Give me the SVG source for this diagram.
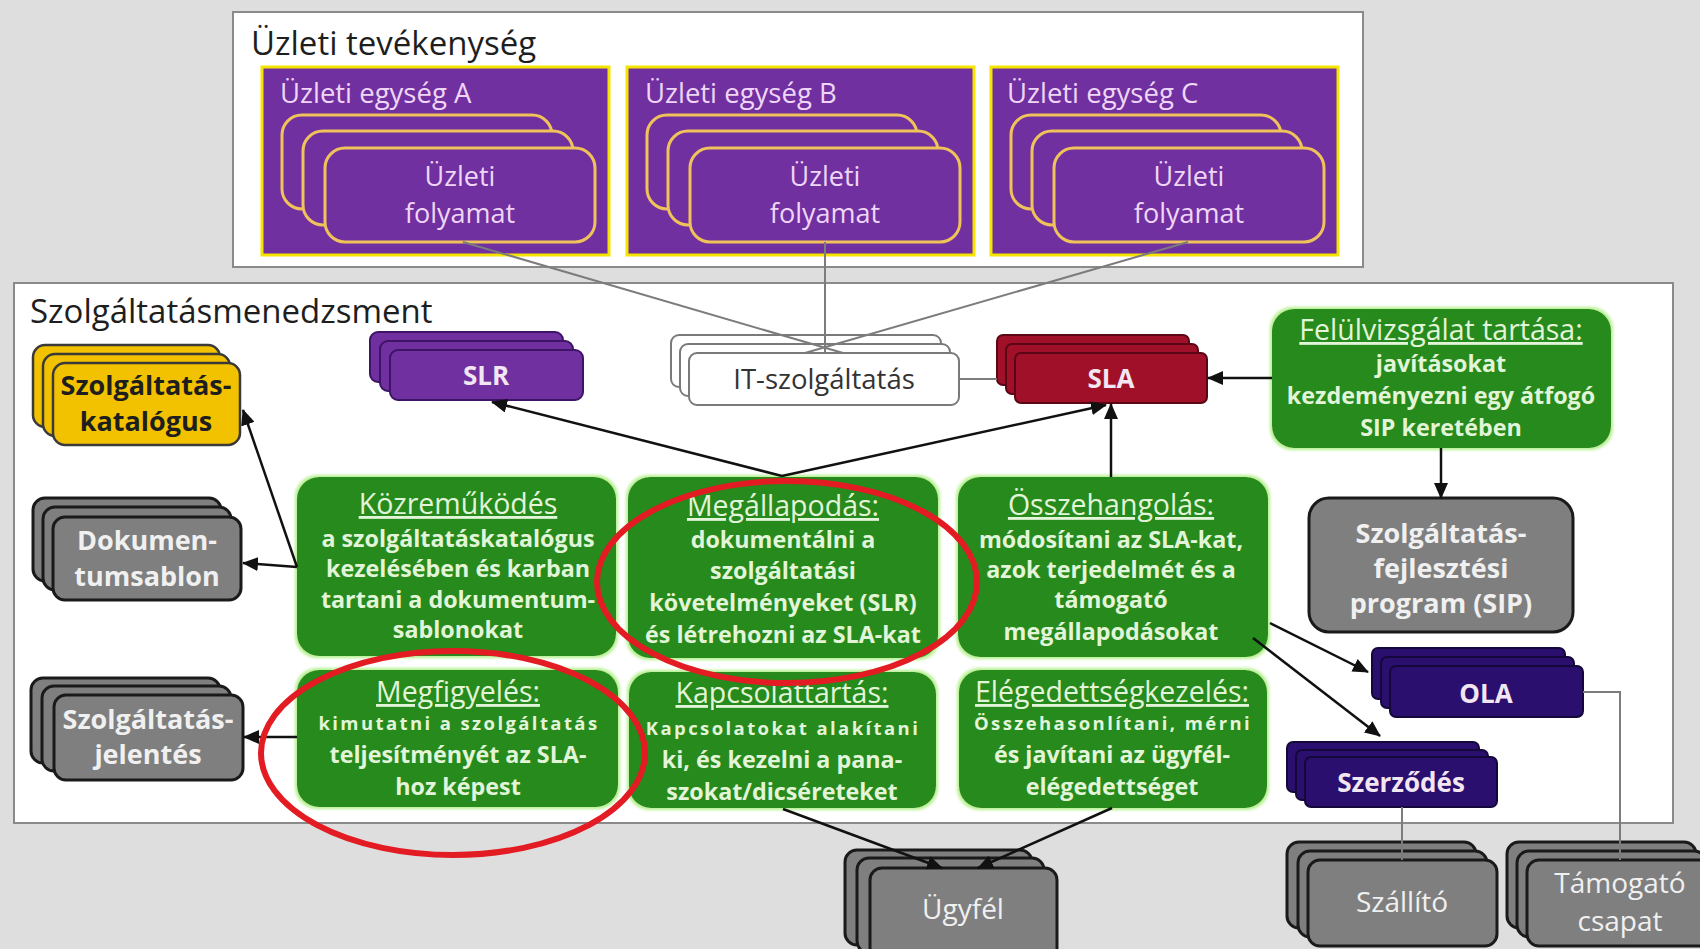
<svg xmlns="http://www.w3.org/2000/svg" width="1700" height="949" viewBox="0 0 1700 949">
  <defs>
    <style>
      text { font-family: "Open Sans", "Liberation Sans", sans-serif; }
      .frame { fill: #ffffff; stroke: #8a8a8a; stroke-width: 2; }
      .sec { font-size: 33px; fill: #1e1e1e; }
      .unit { fill: #7030a0; stroke: #f5e400; stroke-width: 3; }
      .proc { fill: #7030a0; stroke: #f0c35a; stroke-width: 3; }
      .lav { fill: #efd6f7; font-size: 27px; text-anchor: middle; }
      .lav-l { fill: #efd6f7; font-size: 27.5px; }
      .green { fill: #288a1a; filter: url(#glow); }
      .gt { fill: #e2f5d8; font-size: 28.5px; text-anchor: middle; text-decoration: underline; }
      .gb { fill: #e2f5d8; font-size: 23.3px; font-weight: bold; text-anchor: middle; }
      .gs { fill: #e2f5d8; font-size: 18.5px; font-weight: bold; text-anchor: middle; letter-spacing: 2.4px; }
      .gray { fill: #7f7f7f; stroke: #1a1a1a; stroke-width: 3; }
      .gray-t { fill: #f0f0f0; font-size: 28px; text-anchor: middle; }
      .gray-tb { fill: #f0f0f0; font-size: 27px; font-weight: bold; text-anchor: middle; }
      .gold { fill: #f2c200; stroke: #3a3a3a; stroke-width: 2.5; }
      .gold-t { fill: #1e1e1e; font-size: 27px; font-weight: bold; text-anchor: middle; }
      .slr { fill: #7030a0; stroke: #3d1466; stroke-width: 2; }
      .sla { fill: #a01028; stroke: #5a0614; stroke-width: 2; }
      .ola { fill: #2a0f6e; stroke: #14083a; stroke-width: 2; }
      .itsv { fill: #ffffff; stroke: #7a7a7a; stroke-width: 2; }
      .lbl-b { fill: #f3e6f3; font-size: 26px; font-weight: bold; text-anchor: middle; }
      .lbl-it { fill: #333333; font-size: 27.5px; text-anchor: middle; }
      .arrow { stroke: #111111; stroke-width: 2.5; fill: none; marker-end: url(#head); }
      .link { stroke: #7c7c7c; stroke-width: 2; fill: none; }
      .ring { fill: none; stroke: #e31b23; stroke-width: 6; }
    </style>
    <marker id="head" markerUnits="userSpaceOnUse" markerWidth="16" markerHeight="14" refX="15" refY="7" orient="auto">
      <path d="M0,0 L16,7 L0,14 Z" fill="#111111"/>
    </marker>
    <filter id="glow" x="-5%" y="-5%" width="110%" height="110%">
      <feMorphology in="SourceAlpha" operator="dilate" radius="2" result="d"/>
      <feGaussianBlur in="d" stdDeviation="1.5" result="b"/>
      <feFlood flood-color="#b5f08f"/>
      <feComposite in2="b" operator="in" result="g"/>
      <feMerge><feMergeNode in="g"/><feMergeNode in="SourceGraphic"/></feMerge>
    </filter>
  </defs>

  <!-- backdrop -->
  <rect x="0" y="0" width="1700" height="949" fill="#dedede"/>

  <!-- business layer -->
  <g id="uzleti-tevekenyseg">
    <rect class="frame" x="233" y="12" width="1130" height="255"/>
    <text class="sec" x="251" y="55">Üzleti tevékenység</text>
  </g>

  <g id="egyseg-a">
    <rect class="unit" x="262" y="67" width="347" height="188"/>
    <text class="lav-l" x="280" y="103">Üzleti egység A</text>
    <rect class="proc" x="282" y="115" width="270" height="94" rx="20"/>
    <rect class="proc" x="303" y="131" width="270" height="94" rx="20"/>
    <rect class="proc" x="325" y="148" width="270" height="94" rx="20"/>
    <text class="lav" x="460" y="186">Üzleti</text>
    <text class="lav" x="460" y="223">folyamat</text>
  </g>

  <g id="egyseg-b">
    <rect class="unit" x="627" y="67" width="347" height="188"/>
    <text class="lav-l" x="645" y="103">Üzleti egység B</text>
    <rect class="proc" x="647" y="115" width="270" height="94" rx="20"/>
    <rect class="proc" x="668" y="131" width="270" height="94" rx="20"/>
    <rect class="proc" x="690" y="148" width="270" height="94" rx="20"/>
    <text class="lav" x="825" y="186">Üzleti</text>
    <text class="lav" x="825" y="223">folyamat</text>
  </g>

  <g id="egyseg-c">
    <rect class="unit" x="991" y="67" width="347" height="188"/>
    <text class="lav-l" x="1007" y="103">Üzleti egység C</text>
    <rect class="proc" x="1011" y="115" width="270" height="94" rx="20"/>
    <rect class="proc" x="1032" y="131" width="270" height="94" rx="20"/>
    <rect class="proc" x="1054" y="148" width="270" height="94" rx="20"/>
    <text class="lav" x="1189" y="186">Üzleti</text>
    <text class="lav" x="1189" y="223">folyamat</text>
  </g>

  <!-- service management layer -->
  <g id="szolgaltatasmenedzsment">
    <rect class="frame" x="14" y="283" width="1659" height="540"/>
    <text class="sec" x="30" y="323">Szolgáltatásmenedzsment</text>
  </g>

  <g id="slr">
    <rect class="slr" x="370" y="332" width="193" height="50" rx="8"/>
    <rect class="slr" x="380" y="341" width="193" height="50" rx="8"/>
    <rect class="slr" x="390" y="350" width="193" height="50" rx="8"/>
    <text class="lbl-b" x="486" y="385">SLR</text>
  </g>

  <g id="it-szolgaltatas">
    <rect class="itsv" x="671" y="335" width="270" height="52" rx="8"/>
    <rect class="itsv" x="680" y="344" width="270" height="52" rx="8"/>
    <rect class="itsv" x="689" y="353" width="270" height="52" rx="8"/>
    <text class="lbl-it" x="824" y="389">IT-szolgáltatás</text>
  </g>

  <g id="sla">
    <rect class="sla" x="997" y="335" width="192" height="50" rx="6"/>
    <rect class="sla" x="1006" y="344" width="192" height="50" rx="6"/>
    <rect class="sla" x="1015" y="353" width="192" height="50" rx="6"/>
    <text class="lbl-b" x="1111" y="388">SLA</text>
  </g>

  <g id="katalogus">
    <rect class="gold" x="33" y="345" width="187" height="82" rx="12"/>
    <rect class="gold" x="43" y="354" width="187" height="82" rx="12"/>
    <rect class="gold" x="53" y="363" width="187" height="82" rx="12"/>
    <text class="gold-t" x="146" y="395">Szolgáltatás-</text>
    <text class="gold-t" x="146" y="431">katalógus</text>
  </g>

  <g id="dokumentumsablon">
    <rect class="gray" x="33" y="498" width="188" height="83" rx="12"/>
    <rect class="gray" x="43" y="507" width="188" height="83" rx="12"/>
    <rect class="gray" x="53" y="517" width="188" height="83" rx="12"/>
    <text class="gray-tb" x="147" y="550">Dokumen-</text>
    <text class="gray-tb" x="147" y="586">tumsablon</text>
  </g>

  <g id="szolgaltatas-jelentes">
    <rect class="gray" x="31" y="678" width="189" height="85" rx="12"/>
    <rect class="gray" x="42" y="686" width="189" height="85" rx="12"/>
    <rect class="gray" x="54" y="695" width="189" height="85" rx="12"/>
    <text class="gray-tb" x="148" y="729">Szolgáltatás-</text>
    <text class="gray-tb" x="148" y="764">jelentés</text>
  </g>

  <g id="kozremukodes">
    <rect class="green" x="297" y="477" width="319" height="179" rx="22"/>
    <text class="gt" x="458" y="514">Közreműködés</text>
    <text class="gb" x="458" y="547">a szolgáltatáskatalógus</text>
    <text class="gb" x="458" y="577">kezelésében és karban</text>
    <text class="gb" x="458" y="608">tartani a dokumentum-</text>
    <text class="gb" x="458" y="638">sablonokat</text>
  </g>

  <g id="megallapodas">
    <rect class="green" x="628" y="477" width="310" height="181" rx="22"/>
    <text class="gt" x="783" y="516">Megállapodás:</text>
    <text class="gb" x="783" y="548">dokumentálni a</text>
    <text class="gb" x="783" y="579">szolgáltatási</text>
    <text class="gb" x="783" y="611">követelményeket (SLR)</text>
    <text class="gb" x="783" y="643">és létrehozni az SLA-kat</text>
  </g>

  <g id="osszehangolas">
    <rect class="green" x="958" y="477" width="310" height="180" rx="22"/>
    <text class="gt" x="1111" y="515">Összehangolás:</text>
    <text class="gb" x="1111" y="548">módosítani az SLA-kat,</text>
    <text class="gb" x="1111" y="578">azok terjedelmét és a</text>
    <text class="gb" x="1111" y="608">támogató</text>
    <text class="gb" x="1111" y="640">megállapodásokat</text>
  </g>

  <g id="felulvizsgalat">
    <rect class="green" x="1272" y="309" width="339" height="139" rx="22"/>
    <text class="gt" x="1441" y="340">Felülvizsgálat tartása:</text>
    <text class="gb" x="1441" y="372">javításokat</text>
    <text class="gb" x="1441" y="404">kezdeményezni egy átfogó</text>
    <text class="gb" x="1441" y="436">SIP keretében</text>
  </g>

  <g id="sip">
    <rect class="gray" x="1309" y="498" width="264" height="134" rx="20"/>
    <text class="gray-tb" x="1441" y="543">Szolgáltatás-</text>
    <text class="gray-tb" x="1441" y="578">fejlesztési</text>
    <text class="gray-tb" x="1441" y="613">program (SIP)</text>
  </g>

  <g id="megfigyeles">
    <rect class="green" x="297" y="670" width="321" height="137" rx="22"/>
    <text class="gt" x="458" y="702">Megfigyelés:</text>
    <text class="gs" x="459" y="730">kimutatni a szolgáltatás</text>
    <text class="gb" x="458" y="763">teljesítményét az SLA-</text>
    <text class="gb" x="458" y="795">hoz képest</text>
  </g>

  <g id="kapcsolattartas">
    <rect class="green" x="629" y="672" width="307" height="136" rx="22"/>
    <text class="gt" x="782" y="703">Kapcsolattartás:</text>
    <text class="gs" x="783" y="735">Kapcsolatokat alakítani</text>
    <text class="gb" x="782" y="768">ki, és kezelni a pana-</text>
    <text class="gb" x="782" y="800">szokat/dicséreteket</text>
  </g>

  <g id="elegedettsegkezeles">
    <rect class="green" x="959" y="670" width="308" height="138" rx="22"/>
    <text class="gt" x="1112" y="702">Elégedettségkezelés:</text>
    <text class="gs" x="1113" y="730">Összehasonlítani, mérni</text>
    <text class="gb" x="1112" y="763">és javítani az ügyfél-</text>
    <text class="gb" x="1112" y="795">elégedettséget</text>
  </g>

  <g id="ola">
    <rect class="ola" x="1372" y="648" width="193" height="51" rx="6"/>
    <rect class="ola" x="1381" y="657" width="193" height="51" rx="6"/>
    <rect class="ola" x="1390" y="666" width="193" height="51" rx="6"/>
    <text class="lbl-b" x="1486" y="703">OLA</text>
  </g>

  <g id="szerzodes">
    <rect class="ola" x="1287" y="742" width="192" height="50" rx="6"/>
    <rect class="ola" x="1296" y="750" width="192" height="50" rx="6"/>
    <rect class="ola" x="1305" y="757" width="192" height="50" rx="6"/>
    <text class="lbl-b" x="1401" y="792">Szerződés</text>
  </g>

  <!-- external parties -->
  <g id="ugyfel">
    <rect class="gray" x="845" y="850" width="187" height="95" rx="12"/>
    <rect class="gray" x="857" y="858" width="187" height="95" rx="12"/>
    <rect class="gray" x="870" y="868" width="187" height="95" rx="12"/>
    <text class="gray-t" x="963" y="919">Ügyfél</text>
  </g>

  <g id="szallito">
    <rect class="gray" x="1287" y="842" width="189" height="86" rx="12"/>
    <rect class="gray" x="1298" y="851" width="189" height="86" rx="12"/>
    <rect class="gray" x="1308" y="860" width="189" height="86" rx="12"/>
    <text class="gray-t" x="1402" y="912">Szállító</text>
  </g>

  <g id="tamogato-csapat">
    <rect class="gray" x="1507" y="842" width="189" height="86" rx="12"/>
    <rect class="gray" x="1517" y="851" width="189" height="86" rx="12"/>
    <rect class="gray" x="1527" y="860" width="189" height="86" rx="12"/>
    <text class="gray-t" x="1620" y="893">Támogató</text>
    <text class="gray-t" x="1620" y="931">csapat</text>
  </g>

  <!-- connectors -->
  <g id="connectors">
    <line class="link" x1="463" y1="242" x2="843" y2="353"/>
    <line class="link" x1="825" y1="242" x2="825" y2="353"/>
    <line class="link" x1="1188" y1="242" x2="805" y2="353"/>
    <line class="link" x1="959" y1="379" x2="997" y2="379"/>
    <line class="link" x1="1402" y1="807" x2="1402" y2="860"/>
    <polyline class="link" points="1583,692 1620,692 1620,860"/>

    <line class="arrow" x1="297" y1="567" x2="243" y2="410"/>
    <line class="arrow" x1="297" y1="567" x2="243" y2="563"/>
    <line class="arrow" x1="297" y1="737" x2="244" y2="737"/>
    <line class="arrow" x1="782" y1="476" x2="492" y2="402"/>
    <line class="arrow" x1="782" y1="476" x2="1106" y2="405"/>
    <line class="arrow" x1="1111" y1="477" x2="1111" y2="404"/>
    <line class="arrow" x1="1272" y1="378" x2="1208" y2="378"/>
    <line class="arrow" x1="1441" y1="448" x2="1441" y2="498"/>
    <line class="arrow" x1="1270" y1="623" x2="1368" y2="672"/>
    <line class="arrow" x1="1253" y1="638" x2="1380" y2="736"/>
    <line class="arrow" x1="783" y1="809" x2="942" y2="868"/>
    <line class="arrow" x1="1112" y1="808" x2="978" y2="868"/>
  </g>

  <!-- highlight rings -->
  <g id="kiemeles">
    <ellipse class="ring" cx="787" cy="582" rx="190" ry="101"/>
    <ellipse class="ring" cx="453" cy="753" rx="192" ry="102"/>
  </g>
</svg>
